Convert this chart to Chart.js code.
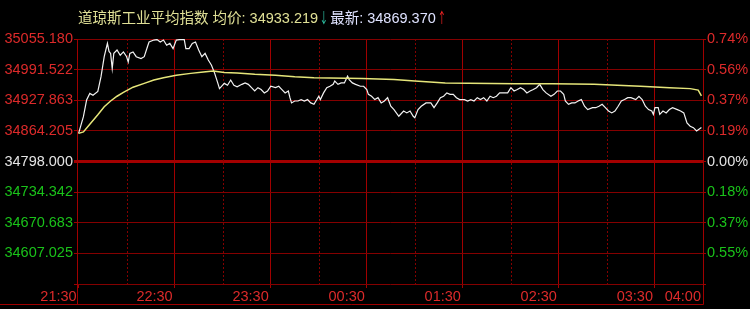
<!DOCTYPE html>
<html>
<head>
<meta charset="utf-8">
<script src="https://cdn.jsdelivr.net/npm/chart.js@4.4.0/dist/chart.umd.min.js"></script>
<style>
  html, body { margin: 0; padding: 0; background: #000; }
  #wrap { position: relative; width: 750px; height: 309px; }
  #title { position: absolute; left: 78px; top: 6px; white-space: nowrap;
           font: 14.5px "Liberation Sans", "Noto Sans CJK SC", sans-serif; color: #e0e096; }
  .arrow { font-family: "Noto Sans CJK SC", sans-serif; display: inline-block; width: 8px;
           text-align: center; transform: scaleX(0.6); }
  canvas { display: block; }
</style>
</head>
<body>
<div id="wrap">
  <canvas id="dowChart" width="750" height="309"></canvas>
  <div id="title"><span id="tName"></span><span class="arrow" style="color:#2ec4a6">↓</span> <span id="tLast" style="color:#dfe2ff"></span><span class="arrow" style="color:#ff2424">↑</span></div>
</div>
<script>
// previous close and half-range step of the price axis
const prevClose = 34798;
const yStep = 64.295;

// tick labels, bottom to top
const leftLabels = ['', '34607.025', '34670.683', '34734.342', '34798.000', '34864.205', '34927.863', '34991.522', '35055.180'];
const rightLabels = ['', '0.55%', '0.37%', '0.18%', '0.00%', '0.19%', '0.37%', '0.56%', '0.74%'];

// minutes since 21:30
const timeTicks = [0, 60, 120, 180, 240, 300, 360, 390];
const timeLabels = ['21:30', '22:30', '23:30', '00:30', '01:30', '02:30', '03:30', '04:00'];
const halfHours = [30, 90, 150, 210, 270, 330];

const priceMinutes = [0, 3, 5, 7, 9, 12, 14, 16, 18, 19, 20, 21, 22, 24, 26, 28, 30, 31, 32, 34, 36, 39, 41, 43, 44, 47, 49, 51, 53, 55, 57, 59, 61, 63, 66, 67, 69, 71, 73, 75, 77, 79, 81, 83, 85, 87, 88, 91, 93, 95, 97, 99,
  102, 104, 106, 108, 110, 112, 114, 116, 118, 120, 123, 125, 127, 129, 131, 132, 133, 135, 137, 139, 141, 143, 145, 147, 150, 151, 153, 155, 157, 159, 160, 162, 164, 166, 168, 169, 171, 173, 176, 178, 180, 181, 183, 185, 187, 189, 191, 193, 195, 197,
  200, 203, 205, 207, 209, 210, 212, 214, 217, 220, 222, 224, 226, 228, 230, 232, 234, 236, 238, 241, 243, 245, 247, 249, 251, 253, 255, 257, 259, 261, 263, 265, 268, 270, 272, 274, 276, 278, 280, 282, 284, 286, 288, 290, 292, 295, 297, 299,
  301, 303, 304, 306, 308, 310, 312, 314, 316, 318, 321, 323, 325, 327, 329, 331, 333, 335, 337, 339, 341, 343, 345, 348, 350, 352, 354, 356, 358, 359, 360, 362, 363, 365, 367, 369, 371, 374, 376, 378, 380, 382, 384, 386, 389];
const priceValues = [34857, 34892, 34927, 34941, 34937, 34945, 34976, 35018, 35046, 35029, 35025, 34993, 35025, 35032, 35021, 35028, 35018, 35007, 35025, 35028, 35018, 35014, 35018, 35039, 35049, 35053, 35054, 35049, 35053, 35042, 35046, 35035, 35053, 35054, 35054, 35035, 35035, 35046, 35049, 35032, 35018, 35025, 35011, 35000, 34983, 34962, 34951, 34962, 34958, 34969, 34958, 34955,
  34960, 34963, 34960, 34953, 34946, 34953, 34949, 34942, 34946, 34956, 34953, 34956, 34949, 34942, 34946, 34932, 34921, 34925, 34925, 34928, 34925, 34928, 34921, 34918, 34935, 34928, 34942, 34953, 34956, 34960, 34967, 34960, 34963, 34963, 34977, 34970, 34963, 34960, 34956, 34956, 34949, 34939, 34935, 34928, 34932, 34921, 34925, 34932, 34914, 34907,
  34893, 34904, 34900, 34904, 34893, 34890, 34907, 34914, 34921, 34921, 34911, 34921, 34932, 34935, 34942, 34939, 34939, 34932, 34928, 34928, 34925, 34928, 34925, 34932, 34928, 34932, 34925, 34935, 34932, 34935, 34942, 34942, 34942, 34953, 34946, 34949, 34953, 34949, 34942, 34946, 34949, 34953, 34960, 34949, 34942, 34935, 34939, 34946,
  34946, 34939, 34925, 34918, 34921, 34921, 34925, 34928, 34914, 34907, 34911, 34911, 34914, 34918, 34911, 34904, 34900, 34904, 34914, 34925, 34928, 34932, 34932, 34928, 34935, 34928, 34914, 34907, 34904, 34897, 34911, 34911, 34897, 34904, 34900, 34907, 34911, 34907, 34904, 34900, 34879, 34872, 34869, 34862, 34869.37];

const avgMinutes = [0, 3, 7, 12, 16, 20, 24, 28, 34, 41, 47, 53, 61, 70, 78, 84, 91, 99, 110, 123, 135, 147, 177, 197, 210, 229, 273, 296, 322, 351, 369, 382, 387, 389];
const avgValues = [34857, 34860, 34876, 34896, 34913, 34925, 34935, 34943, 34954, 34962, 34969, 34974, 34979, 34983, 34986, 34988, 34985, 34984, 34981, 34979, 34976, 34974, 34972, 34970, 34967, 34963, 34961, 34961, 34960, 34956, 34953, 34951, 34948, 34936];

const titleName = '道琼斯工业平均指数 均价: 34933.219';
const titleLast = '最新: 34869.370';

document.getElementById('tName').textContent = titleName;
document.getElementById('tLast').textContent = titleLast;

const RED = '#dc2a2a';
const GREEN = '#1ac21a';
const GRID = '#840000';
const AXIS = '#a00000';
const axisFont = { family: '"Liberation Sans", Arial, sans-serif', size: 14.5 };

function labelColor(i) {
    if (i === 4) return '#e4e4e4';
    return i > 4 ? RED : GREEN;
}

const framePlugin = {
    id: 'frame',
    beforeDatasetsDraw(chart) {
        const { ctx, chartArea, scales } = chart;
        ctx.save();
        ctx.strokeStyle = GRID;
        ctx.lineWidth = 1;
        ctx.setLineDash([2, 2]);
        halfHours.forEach(m => {
            const x = Math.round(scales.x.getPixelForValue(m)) + 0.5;
            ctx.beginPath();
            ctx.moveTo(x, chartArea.top);
            ctx.lineTo(x, chartArea.bottom);
            ctx.stroke();
        });
        ctx.restore();
    },
    afterDraw(chart) {
        const { ctx, chartArea } = chart;
        const yb = chartArea.bottom + 20.5;
        const l = Math.round(chartArea.left) + 0.5;
        const r = Math.round(chartArea.right) + 0.5;
        ctx.save();
        ctx.strokeStyle = AXIS;
        ctx.lineWidth = 1;
        ctx.beginPath();
        ctx.moveTo(0, yb);
        ctx.lineTo(r, yb);
        ctx.moveTo(l, chartArea.bottom);
        ctx.lineTo(l, yb);
        ctx.moveTo(r, chartArea.bottom);
        ctx.lineTo(r, yb);
        ctx.stroke();
        ctx.restore();
    }
};

new Chart(document.getElementById('dowChart').getContext('2d'), {
    type: 'line',
    data: {
        datasets: [{
            label: '均价',
            data: avgMinutes.map((m, i) => ({ x: m, y: avgValues[i] })),
            borderColor: '#e6e67a',
            borderWidth: 1.5,
            pointRadius: 0,
            tension: 0
        }, {
            label: '最新',
            data: priceMinutes.map((m, i) => ({ x: m, y: priceValues[i] })),
            borderColor: '#f2f2f2',
            borderWidth: 1.2,
            pointRadius: 0,
            tension: 0
        }]
    },
    options: {
        responsive: false,
        animation: false,
        devicePixelRatio: 1,
        layout: { padding: { top: 39, bottom: 5, left: 0, right: 0 } },
        plugins: { legend: { display: false }, tooltip: { enabled: false } },
        scales: {
            x: {
                type: 'linear',
                min: -1,
                max: 390,
                afterBuildTicks: s => { s.ticks = timeTicks.map(v => ({ value: v })); },
                afterFit: s => { s.height = 20; },
                ticks: {
                    autoSkip: false,
                    maxRotation: 0,
                    align: 'end',
                    labelOffset: -2,
                    padding: 0,
                    color: RED,
                    font: axisFont,
                    callback: (v, i) => timeLabels[i]
                },
                grid: {
                    color: c => (c.index === 0 || c.index === timeTicks.length - 1) ? 'rgba(0,0,0,0)' : AXIS,
                    tickColor: AXIS,
                    tickLength: 4
                },
                border: { display: false }
            },
            y: {
                type: 'linear',
                position: 'left',
                min: prevClose - 4 * yStep,
                max: prevClose + 4 * yStep,
                afterBuildTicks: s => { s.ticks = leftLabels.map((_, i) => ({ value: prevClose + (i - 4) * yStep })); },
                afterFit: s => { s.width = 77; },
                ticks: {
                    padding: 1,
                    font: axisFont,
                    color: c => labelColor(c.index),
                    callback: (v, i) => leftLabels[i]
                },
                grid: {
                    color: c => c.index === 4 ? '#a40000' : GRID,
                    lineWidth: c => c.index === 4 ? 3 : 1,
                    tickColor: AXIS,
                    tickLength: 3
                },
                border: { display: true, color: AXIS }
            },
            y1: {
                type: 'linear',
                position: 'right',
                min: prevClose - 4 * yStep,
                max: prevClose + 4 * yStep,
                afterBuildTicks: s => { s.ticks = rightLabels.map((_, i) => ({ value: prevClose + (i - 4) * yStep })); },
                afterFit: s => { s.width = 47; },
                ticks: {
                    padding: 1,
                    font: axisFont,
                    color: c => labelColor(c.index),
                    callback: (v, i) => rightLabels[i]
                },
                grid: {
                    drawOnChartArea: false,
                    tickColor: AXIS,
                    tickLength: 3
                },
                border: { display: true, color: AXIS }
            }
        }
    },
    plugins: [framePlugin]
});
</script>
</body>
</html>
